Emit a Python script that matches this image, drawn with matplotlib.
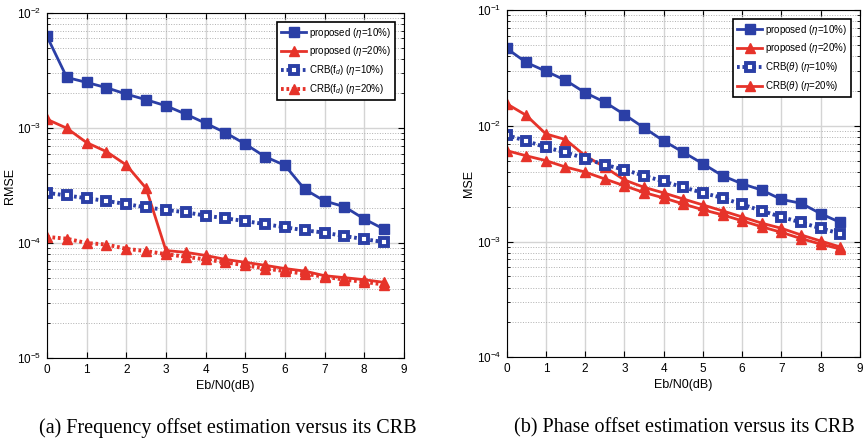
import numpy as np
import matplotlib
matplotlib.use("Agg")
import matplotlib.pyplot as plt

plt.rcParams['font.family'] = ['Liberation Sans', 'DejaVu Sans']
plt.rcParams['mathtext.fontset'] = 'custom'
plt.rcParams['mathtext.rm'] = 'Liberation Sans'
plt.rcParams['mathtext.it'] = 'Liberation Sans:italic'

# data
ebn0 = [0, 0.5, 1, 1.5, 2, 2.5, 3, 3.5, 4, 4.5, 5, 5.5, 6, 6.5, 7, 7.5, 8, 8.5]

# (a) frequency offset, RMSE
freq_prop10 = [6.25e-3, 2.75e-3, 2.49e-3, 2.24e-3, 1.97e-3, 1.76e-3, 1.56e-3, 1.32e-3, 1.10e-3,
               9.1e-4, 7.26e-4, 5.63e-4, 4.74e-4, 2.93e-4, 2.32e-4, 2.07e-4, 1.62e-4, 1.32e-4]
freq_prop20 = [1.19e-3, 9.95e-4, 7.46e-4, 6.23e-4, 4.77e-4, 2.99e-4, 8.6e-5, 8.3e-5, 7.8e-5,
               7.2e-5, 6.8e-5, 6.4e-5, 6.0e-5, 5.7e-5, 5.2e-5, 5.0e-5, 4.8e-5, 4.55e-5]
freq_crb10 = [2.73e-4, 2.59e-4, 2.45e-4, 2.32e-4, 2.18e-4, 2.04e-4, 1.94e-4, 1.85e-4, 1.73e-4,
              1.64e-4, 1.55e-4, 1.46e-4, 1.37e-4, 1.29e-4, 1.23e-4, 1.15e-4, 1.08e-4, 1.02e-4]
freq_crb20 = [1.13e-4, 1.09e-4, 1.0e-4, 9.7e-5, 8.9e-5, 8.5e-5, 8.0e-5, 7.6e-5, 7.2e-5,
              6.8e-5, 6.4e-5, 6.0e-5, 5.7e-5, 5.4e-5, 5.1e-5, 4.8e-5, 4.6e-5, 4.35e-5]

# (b) phase offset, MSE
phase_prop10 = [4.66e-2, 3.52e-2, 2.96e-2, 2.47e-2, 1.93e-2, 1.60e-2, 1.25e-2, 9.6e-3, 7.4e-3,
                5.9e-3, 4.7e-3, 3.7e-3, 3.15e-3, 2.78e-3, 2.31e-3, 2.14e-3, 1.74e-3, 1.46e-3]
phase_prop20 = [1.55e-2, 1.23e-2, 8.5e-3, 7.6e-3, 5.5e-3, 4.4e-3, 3.4e-3, 2.94e-3, 2.63e-3,
                2.33e-3, 2.07e-3, 1.84e-3, 1.63e-3, 1.44e-3, 1.30e-3, 1.14e-3, 1.01e-3, 8.97e-4]
phase_crb10 = [8.3e-3, 7.4e-3, 6.5e-3, 5.9e-3, 5.2e-3, 4.6e-3, 4.17e-3, 3.7e-3, 3.3e-3,
               2.94e-3, 2.63e-3, 2.38e-3, 2.09e-3, 1.84e-3, 1.63e-3, 1.46e-3, 1.30e-3, 1.17e-3]
phase_crb20 = [6.1e-3, 5.5e-3, 5.0e-3, 4.4e-3, 3.98e-3, 3.47e-3, 3.03e-3, 2.65e-3, 2.38e-3,
               2.11e-3, 1.88e-3, 1.70e-3, 1.51e-3, 1.34e-3, 1.20e-3, 1.06e-3, 9.5e-4, 8.6e-4]

blue = '#2b3fa6'
red = '#e6332a'
dots = (0, (0.7, 0.7))

fig = plt.figure(figsize=(8.66, 4.47), dpi=100)
ax1 = fig.add_axes([0.0543, 0.199, 0.412, 0.772])
ax2 = fig.add_axes([0.585, 0.2007, 0.408, 0.777])


def style_axes(ax, ylo, yhi, ylabel):
    ax.set_yscale('log')
    ax.set_xlim(0, 9)
    ax.set_ylim(ylo, yhi)
    ax.set_xticks(range(10))
    ax.grid(True, which='major', color='#d4d4d4', lw=1.0, ls='-')
    ax.grid(True, which='minor', axis='y', color='#b0b0b0', lw=0.7, ls=':')
    ax.set_axisbelow(True)
    ax.tick_params(which='both', direction='in', top=True, right=True, labelsize=8.5)
    ax.tick_params(which='major', length=4, pad=4)
    ax.tick_params(which='minor', length=2)
    for s in ax.spines.values():
        s.set_linewidth(0.8)
    ax.set_xlabel('Eb/N0(dB)', fontsize=9, labelpad=3)
    ax.set_ylabel(ylabel, fontsize=9, labelpad=1)


kw = dict(lw=2.0, ms=7)
crb_sq = dict(marker='s', ls=dots, mfc='white', mew=2.8, lw=2.8, ms=5.2)
ax1.plot(ebn0, freq_prop10, '-s', color=blue, label='proposed ($\\eta$=10%)', **kw)
ax1.plot(ebn0, freq_prop20, '-^', color=red, label='proposed ($\\eta$=20%)', **kw)
ax1.plot(ebn0, freq_crb10, color=blue, label='CRB(f$_d$) ($\\eta$=10%)', **crb_sq)
ax1.plot(ebn0, freq_crb20, marker='^', ls=dots, color=red, lw=2.8, ms=7.5,
         label='CRB(f$_d$) ($\\eta$=20%)')
style_axes(ax1, 1e-5, 1e-2, 'RMSE')

ax2.plot(ebn0, phase_prop10, '-s', color=blue, label='proposed ($\\eta$=10%)', **kw)
ax2.plot(ebn0, phase_prop20, '-^', color=red, label='proposed ($\\eta$=20%)', **kw)
ax2.plot(ebn0, phase_crb10, color=blue, label='CRB($\\theta$) ($\\eta$=10%)', **crb_sq)
ax2.plot(ebn0, phase_crb20, '-^', color=red, label='CRB($\\theta$) ($\\eta$=20%)', **kw)
style_axes(ax2, 1e-4, 1e-1, 'MSE')

for ax in (ax1, ax2):
    leg = ax.legend(loc='upper right', fontsize=7, fancybox=False, framealpha=1,
                    edgecolor='black', handlelength=2.6, borderpad=0.4,
                    labelspacing=0.5, handletextpad=0.3, borderaxespad=0.9)
    leg.get_frame().set_linewidth(1.2)

fig.text(0.263, 0.043, '(a) Frequency offset estimation versus its CRB',
         family='Liberation Serif', fontsize=14.5, ha='center', va='center')
fig.text(0.790, 0.043, '(b) Phase offset estimation versus its CRB',
         family='Liberation Serif', fontsize=14.5, ha='center', va='center')

fig.savefig('out.png', dpi=100)
